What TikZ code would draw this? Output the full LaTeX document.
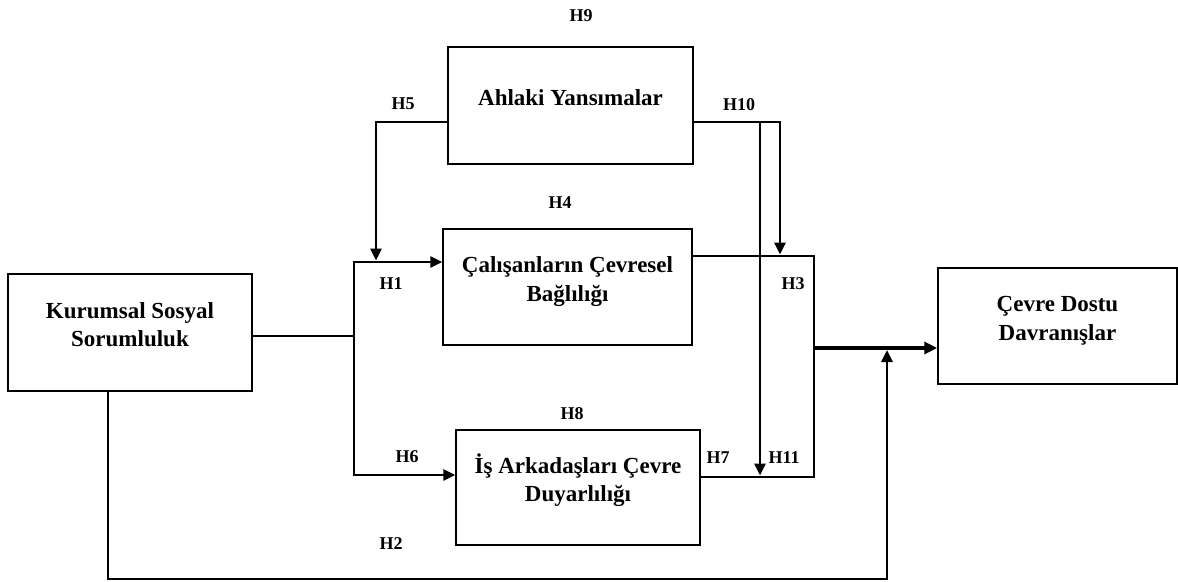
\documentclass[tikz,border=0pt]{standalone}
\usepackage{fontspec}
\setmainfont{Liberation Serif}
\usetikzlibrary{arrows.meta}
% struts that fix the top of the first line and the bottom of the last line
\newcommand\topstrut{\rule{0pt}{21pt}}
\newcommand\botstrut{\rule[-21pt]{0pt}{21pt}}
\begin{document}
\begin{tikzpicture}[x=1pt,y=-1pt,
  box/.style={draw, line width=1.5pt, inner sep=0pt, align=center,
    font=\fontsize{23}{28.5}\selectfont\bfseries},
  hyp/.style={font=\fontsize{18}{20}\selectfont\bfseries, inner sep=0pt},
  conn/.style={line width=2.8pt},
  arr/.style={conn, -{Triangle[length=12pt,width=11pt]}},
  bigarr/.style={line width=4pt, -{Triangle[length=13pt,width=12pt]}}]
\useasboundingbox (0,0) rectangle (1178,581);

% constructs
\node[box, minimum width=244pt, minimum height=117pt] (kss) at (130,332.5)
  {\topstrut Kurumsal Sosyal\\Sorumluluk\botstrut};
\node[box, minimum width=245pt, minimum height=117pt] (ahl) at (570.5,105.5)
  {\topstrut Ahlaki Yansımalar\botstrut};
\node[box, minimum width=249pt, minimum height=116pt] (cal) at (567.5,287)
  {\topstrut Çalışanların Çevresel\\Bağlılığı\botstrut};
\node[box, minimum width=244pt, minimum height=115pt] (is) at (578,487.5)
  {\topstrut İş Arkadaşları Çevre\\Duyarlılığı\botstrut};
\node[box, minimum width=239pt, minimum height=116pt] (cdd) at (1057.5,326)
  {\topstrut Çevre Dostu\\Davranışlar\botstrut};

% routing points
\coordinate (j1) at (354,336);
\coordinate (c1) at (354,262);
\coordinate (c2) at (354,475);
\coordinate (h5a) at (376,122);
\coordinate (h5b) at (376,260.5);
\coordinate (h10v) at (760,122);
\coordinate (h10a) at (780,122);
\coordinate (h10b) at (780,254.5);
\coordinate (h10c) at (760,475.5);
\coordinate (r1) at (814,256);
\coordinate (r2) at (814,477);
\coordinate (o1) at (814,348);
\coordinate (b1) at (108,579);
\coordinate (b2) at (887,579);
\coordinate (b3) at (887,350);

% KSS -> mediators (H1, H6)
\draw[conn] (kss.east |- j1) -- (j1);
\draw[arr] (j1) -- (c1) -- (cal.west |- c1);
\draw[arr] (j1) -- (c2) -- (is.west |- c2);

% moderator paths (H5, H10, H11)
\draw[arr] (ahl.west |- h5a) -- (h5a) -- (h5b);
\draw[arr] (ahl.east |- h10a) -- (h10a) -- (h10b);
\draw[arr] (h10v) -- (h10c);

% mediators -> outcome (H3, H7)
\draw[conn] (cal.east |- r1) -- (r1) -- (r2) -- (is.east |- r2);
\draw[bigarr] (o1) -- (cdd.west |- o1);

% direct effect (H2)
\draw[arr] (kss.south -| b1) -- (b1) -- (b2) -- (b3);

% hypothesis labels
\node[hyp] (H9) at (581,16) {H9};
\node[hyp] (H5) at (403,104) {H5};
\node[hyp] (H10) at (739,105) {H10};
\node[hyp] (H4) at (560,203) {H4};
\node[hyp] (H1) at (391,284) {H1};
\node[hyp] (H3) at (793,284) {H3};
\node[hyp] (H8) at (572,414) {H8};
\node[hyp] (H6) at (407,457) {H6};
\node[hyp] (H7) at (718,458) {H7};
\node[hyp] (H11) at (784,458) {H11};
\node[hyp] (H2) at (391,544) {H2};
\end{tikzpicture}
\end{document}
